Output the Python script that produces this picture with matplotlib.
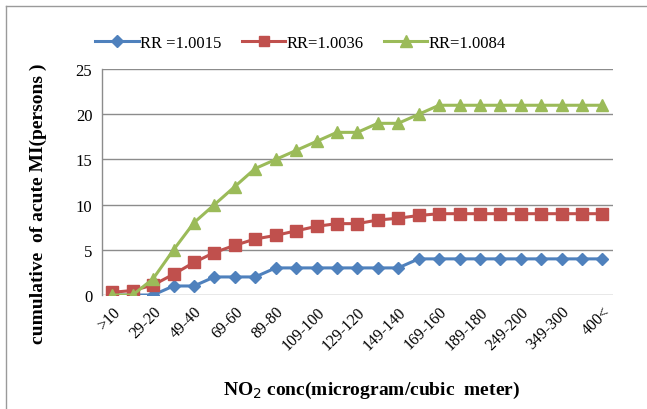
import matplotlib
matplotlib.use("Agg")
import matplotlib.pyplot as plt
from matplotlib.lines import Line2D

# NO2 concentration bands (microgram / cubic meter)
categories = [">10", "19-10", "29-20", "39-30", "49-40", "59-50", "69-60",
              "79-70", "89-80", "99-90", "109-100", "119-110", "129-120",
              "139-130", "149-140", "159-150", "169-160", "179-170",
              "189-180", "199-190", "249-200", "299-250", "349-300",
              "399-350", "400<"]

# cumulative acute MI cases for each relative risk
rr_0015 = [0, 0, 0, 1, 1, 2, 2, 2, 3, 3, 3, 3, 3, 3, 3,
           4, 4, 4, 4, 4, 4, 4, 4, 4, 4]
rr_0036 = [0.3, 0.5, 1.1, 2.3, 3.6, 4.7, 5.5, 6.2, 6.6, 7.1, 7.6, 7.9, 7.9,
           8.3, 8.5, 8.8, 9, 9, 9, 9, 9, 9, 9, 9, 9]
rr_0084 = [0, 0, 1.8, 5, 8, 10, 12, 14, 15, 16, 17, 18, 18, 19, 19,
           20, 21, 21, 21, 21, 21, 21, 21, 21, 21]

series_names = ["RR =1.0015", "RR=1.0036", "RR=1.0084"]
y_ticks = [0, 5, 10, 15, 20, 25]

serif = ["Liberation Serif", "DejaVu Serif"]
plt.rcParams["font.family"] = serif

fig = plt.figure(figsize=(6.47, 4.10), dpi=100)
ax = fig.add_axes([0.1577, 0.278, 0.7893, 0.551])

x = list(range(len(categories)))
grid_c = "#8c8c8c"

l1, = ax.plot(x, rr_0015, color="#4F81BD", lw=2.2, marker="D", ms=6.5,
              label=series_names[0], zorder=3)
l2, = ax.plot(x, rr_0036, color="#C0504D", lw=2.2, marker="s", ms=8,
              label=series_names[1], zorder=3)
l3, = ax.plot(x, rr_0084, color="#9BBB59", lw=2.2, marker="^", ms=9,
              label=series_names[2], zorder=4)

ax.set_xlim(-0.5, len(categories) - 0.5)
ax.set_ylim(0, 25)
ax.set_yticks(y_ticks)
ax.set_yticklabels([str(v) for v in y_ticks], fontsize=12)
ax.set_xticks(x[::2])
ax.set_xticklabels(categories[::2], rotation=45, ha="right",
                   rotation_mode="anchor", fontsize=11.5)
ax.tick_params(axis="both", length=0)
ax.tick_params(axis="y", pad=7)
ax.tick_params(axis="x", pad=6)

ax.yaxis.grid(True, color=grid_c, lw=1)
ax.set_axisbelow(True)
for side in ["top", "right", "bottom"]:
    ax.spines[side].set_visible(False)
ax.spines["left"].set_color(grid_c)
ax.spines["left"].set_linewidth(1)

ax.set_ylabel("cumulative  of acute MI(persons )", fontsize=14,
              fontweight="bold", va="center", ha="center")
ax.yaxis.set_label_coords(-0.125, 0.41)
ax.set_xlabel("NO$_2$ conc(microgram/cubic  meter)", fontsize=14,
              fontweight="bold", va="center", ha="center")
ax.xaxis.set_label_coords(0.528, -0.416)

fig.legend(handles=[l1, l2, l3], loc="center", bbox_to_anchor=(0.465, 0.893),
           ncol=3, frameon=False, fontsize=12, handlelength=2.6,
           handletextpad=0.1, columnspacing=1.2, markerscale=0.9)

# outer chart frame
fig.add_artist(Line2D([0.010, 0.010], [0.0, 0.983], color="#9a9a9a", lw=1,
                      transform=fig.transFigure))
fig.add_artist(Line2D([0.010, 1.0], [0.983, 0.983], color="#9a9a9a", lw=1,
                      transform=fig.transFigure))

fig.savefig("out.png", dpi=100)
